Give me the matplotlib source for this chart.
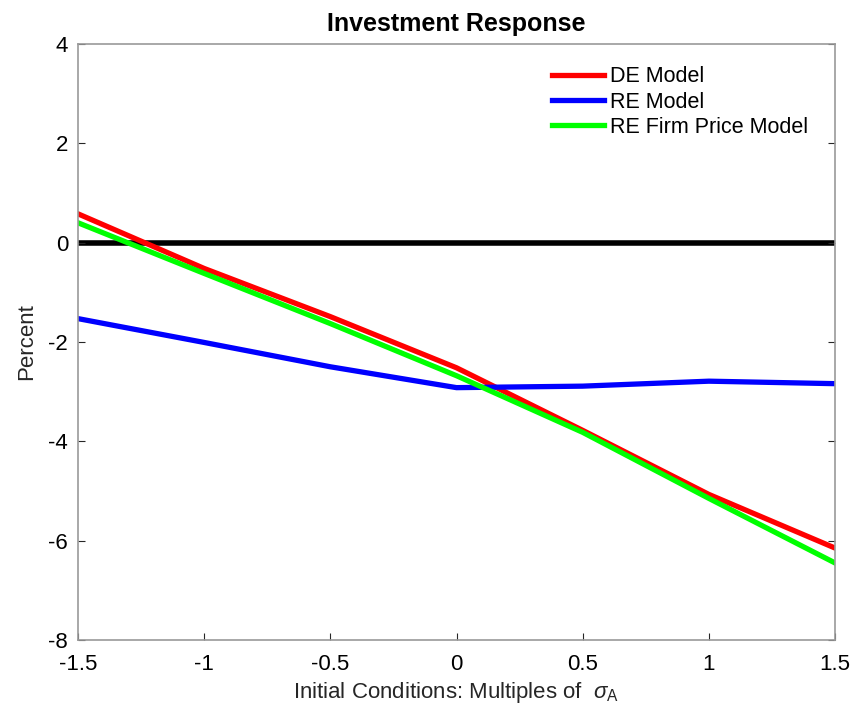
import matplotlib
matplotlib.use("Agg")
import matplotlib.pyplot as plt

plt.rcParams['font.family'] = ['Liberation Sans', 'DejaVu Sans']
plt.rcParams['axes.unicode_minus'] = False
plt.rcParams['mathtext.fontset'] = 'custom'
plt.rcParams['mathtext.it'] = 'Liberation Sans:italic'
plt.rcParams['mathtext.rm'] = 'Liberation Sans'

# initial conditions (multiples of sigma_A)
x = [-1.5, -1, -0.5, 0, 0.5, 1, 1.5]

de_model = [0.58, -0.52, -1.49, -2.52, -3.78, -5.07, -6.15]
re_model = [-1.53, -2.01, -2.50, -2.92, -2.89, -2.79, -2.84]
re_firm = [0.40, -0.62, -1.63, -2.68, -3.82, -5.15, -6.45]

fig = plt.figure(figsize=(8.54, 7.15), dpi=100)
ax = fig.add_axes([0.0913, 0.105, 0.8865, 0.8335])

ax.plot(x, de_model, color='#ff0000', lw=3.8, label='DE Model')
ax.plot(x, re_model, color='#0000ff', lw=3.8, label='RE Model')
ax.plot(x, re_firm, color='#00ff00', lw=3.8, label='RE Firm Price Model')
ax.axhline(0, color='black', lw=4, zorder=1)

ax.set_xlim(-1.5, 1.5)
ax.set_ylim(-8, 4)
ax.set_xticks(x)
ax.set_xticklabels(['-1.5', '-1', '-0.5', '0', '0.5', '1', '1.5'])
ax.set_yticks([-8, -6, -4, -2, 0, 2, 4])
ax.tick_params(direction='in', labelsize=16, length=5, color='#262626', top=False, right=True)
ax.tick_params(axis='x', pad=10)
ax.tick_params(axis='y', pad=7)
for s in ax.spines.values():
    s.set_color('#9a9a9a')
    s.set_linewidth(1.2)

ax.set_title('Investment Response', fontsize=18, fontweight='bold', pad=9)
ax.set_xlabel(r'Initial Conditions: Multiples of  $\sigma_\mathrm{A}$', fontsize=16, color='#262626', labelpad=4)
ax.set_ylabel('Percent', fontsize=16, color='#262626', labelpad=8)

ax.legend(loc='upper right', frameon=False, fontsize=15.5, handlelength=2.4,
          handletextpad=0.3, labelspacing=0.2, bbox_to_anchor=(0.99, 0.995))

fig.savefig('out.png', dpi=100)
